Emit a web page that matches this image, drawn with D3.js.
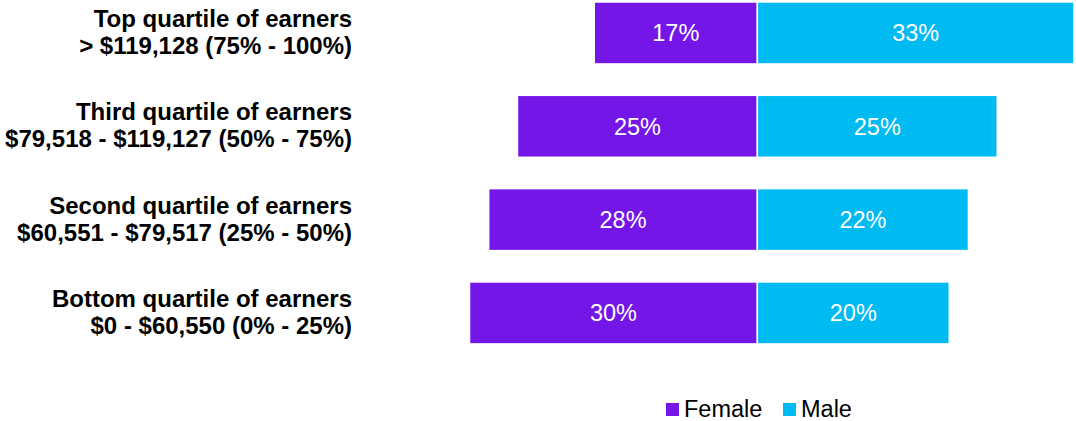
<!DOCTYPE html>
<html><head><meta charset="utf-8">
<script src="https://cdn.jsdelivr.net/npm/d3@7"></script>
<style>body{margin:0;background:#fff}svg{display:block}text{font-family:"Liberation Sans",Arial,sans-serif}</style>
</head><body><svg id="c" width="1076" height="421"></svg>
<script>
const categories = ["Top", "Third", "Second", "Bottom"];
const labelLine1 = ["Top quartile of earners", "Third quartile of earners", "Second quartile of earners", "Bottom quartile of earners"];
const labelLine2 = ["> $119,128 (75% - 100%)", "$79,518 - $119,127 (50% - 75%)", "$60,551 - $79,517 (25% - 50%)", "$0 - $60,550 (0% - 25%)"];
const female = [17, 25, 28, 30];
const male = [33, 25, 22, 20];
const seriesNames = ["Female", "Male"];
const colors = ["#7416E8", "#00BAF2"];

const svg = d3.select("#c");
const x = d3.scaleLinear().domain([-30, 33]).range([469.5, 1074]);
const y = d3.scaleBand().domain(categories).range([-13.7, 359.6]).paddingInner(0.336).paddingOuter(0.168);

const g = svg.append("g");
categories.forEach((c, i) => {
  const y0 = y(c), bw = y.bandwidth();
  g.append("rect").attr("x", x(-female[i])).attr("y", y0).attr("width", x(0) - x(-female[i])).attr("height", bw)
    .attr("fill", colors[0]).attr("stroke", "#fff").attr("stroke-width", 1.5);
  g.append("rect").attr("x", x(0)).attr("y", y0).attr("width", x(male[i]) - x(0)).attr("height", bw)
    .attr("fill", colors[1]).attr("stroke", "#fff").attr("stroke-width", 1.5);
  g.append("text").attr("x", (x(-female[i]) + x(0)) / 2).attr("y", y0 + bw / 2 + 8.5).attr("text-anchor", "middle")
    .attr("fill", "#fff").attr("font-size", 23.5).text(female[i] + "%");
  g.append("text").attr("x", (x(male[i]) + x(0)) / 2).attr("y", y0 + bw / 2 + 8.5).attr("text-anchor", "middle")
    .attr("fill", "#fff").attr("font-size", 23.5).text(male[i] + "%");
  const t = g.append("text").attr("text-anchor", "end").attr("font-weight", "bold").attr("font-size", 24).attr("fill", "#000");
  t.append("tspan").attr("x", 352).attr("y", y0 + bw / 2 - 6).text(labelLine1[i]);
  t.append("tspan").attr("x", 352).attr("y", y0 + bw / 2 + 21).text(labelLine2[i]);
});

const legend = svg.append("g");
const lx = [666, 783];
seriesNames.forEach((s, i) => {
  legend.append("rect").attr("x", lx[i]).attr("y", 403).attr("width", 13).attr("height", 13).attr("fill", colors[i]);
  legend.append("text").attr("x", lx[i] + 18).attr("y", 417).attr("font-size", 23.5).attr("fill", "#000").text(s);
});
</script></body></html>
